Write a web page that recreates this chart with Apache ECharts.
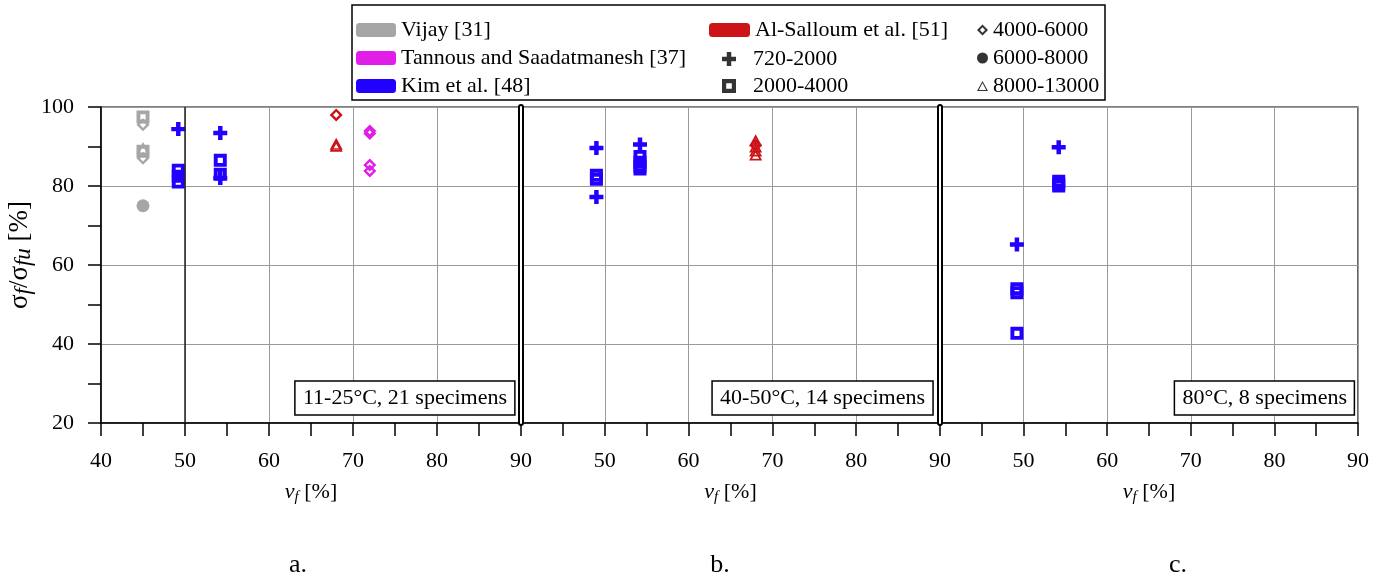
<!DOCTYPE html>
<html>
<head>
<meta charset="utf-8">
<script src="https://cdn.jsdelivr.net/npm/echarts@6/dist/echarts.min.js"></script>
<style>
html,body{margin:0;padding:0;background:#fff;}
#chart{width:1389px;height:582px;}
</style>
</head>
<body>
<div id="chart"></div>
<script>
// ---------- data ----------
const panelLabels = ['a.', 'b.', 'c.'];
const panelNotes = ['11-25°C, 21 specimens', '40-50°C, 14 specimens', '80°C, 8 specimens'];
const xTicks = [40, 50, 60, 70, 80, 90];
const yTicks = [20, 40, 60, 80, 100];
const groups = ['720-2000', '2000-4000', '4000-6000', '6000-8000', '8000-13000'];
const datasetNames = ['Vijay [31]', 'Tannous and Saadatmanesh [37]', 'Kim et al. [48]', 'Al-Salloum et al. [51]'];
// each point: [panel, vf (%), sigma_f/sigma_fu (%), group index]
const vijay = [[0,45,97.5,1],[0,45,95.5,2],[0,45,89.6,4],[0,45,88.8,1],[0,45,87,2],[0,45,75,3]];
const tannous = [[0,72,93.9,2],[0,72,93.3,2],[0,72,85.3,2],[0,72,83.8,2]];
const kim = [
  [0,49.2,94.4,0],[0,49.2,84,1],[0,49.2,82.5,1],[0,49.2,81,1],
  [0,54.2,93.4,0],[0,54.2,86.5,1],[0,54.2,83,1],[0,54.2,82,0],
  [1,49,89.6,0],[1,49,82.7,1],[1,49,81.7,1],[1,49,77.2,0],
  [1,54.2,90.5,0],[1,54.2,87.5,1],[1,54.2,86,1],[1,54.2,85,1],[1,54.2,84.3,1],
  [2,49.2,65.2,0],[2,49.2,54,1],[2,49.2,53,1],[2,49.2,42.7,1],
  [2,54.2,89.8,0],[2,54.2,81.2,1],[2,54.2,80.6,1],[2,54.2,80,1]
];
const alSalloum = [[0,68,98,2],[0,68,90.7,4],[0,68,90.2,4],[1,68,91.6,4],[1,68,90.3,2],[1,68,90,4],[1,68,89,4],[1,68,88,4]];

// ---------- styles ----------
const FONT = '"Liberation Serif", "Times New Roman", serif';
const colors = ['#a6a6a6', '#e01ee8', '#2200ff', '#cc1418'];
const crossPath = 'path://M3.4,0H6.6V3.4H10V6.6H6.6V10H3.4V6.6H0V3.4H3.4Z';
const squarePath = 'path://M0,0H10V10H0Z M3,3V7H7V3Z';
const diamondPath = 'path://M5,0L10,5L5,10L0,5Z M5,2.6L2.6,5L5,7.4L7.4,5Z';
const trianglePath = 'path://M5,0L10,9L0,9Z M5,3.2L2.3,7.8L7.7,7.8Z';
const triangleThin = 'path://M5,0L10,9L0,9Z M5,1.8L1.7,8.1L8.3,8.1Z';
const symbols = [crossPath, squarePath, diamondPath, 'circle', trianglePath];
const sizes = [[14,14], [13,13], [13,13], [13,13], [13,12]];
const allData = [vijay, tannous, kim, alSalloum];

const grids = [
  {left: 101, width: 420, top: 107, height: 316},
  {left: 521, width: 419, top: 107, height: 316},
  {left: 940, width: 418, top: 107, height: 316}
].map(g => Object.assign(g, {show: true, borderColor: '#000', borderWidth: 1.2}));

const TICK = 13;
const xAxes = [0,1,2].map(i => ({
  type: 'value', gridIndex: i, min: xTicks[0], max: xTicks[xTicks.length-1], interval: 10,
  name: '{i|v}{s|f}{n| [%]}', nameLocation: 'middle', nameGap: 56,
  nameTextStyle: {rich: {
    i: {fontFamily: FONT, fontSize: 22, fontStyle: 'italic', color: '#000'},
    s: {fontFamily: FONT, fontSize: 15, fontStyle: 'italic', color: '#000', padding: [11,0,0,0]},
    n: {fontFamily: FONT, fontSize: 22, color: '#000'}
  }},
  axisLine: {show: true, onZero: false, lineStyle: {color: '#000', width: 1.5}},
  axisTick: {show: true, length: TICK, lineStyle: {color: '#000', width: 1.5}},
  minorTick: {show: true, splitNumber: 2, length: TICK, lineStyle: {color: '#000', width: 1.5}},
  axisLabel: {fontFamily: FONT, fontSize: 22, color: '#000', margin: 27,
    formatter: v => (i > 0 && v === xTicks[0]) ? '' : String(v)},
  splitLine: {show: true, lineStyle: {color: '#9a9a9a', width: 1}}
}));

const yAxes = [0,1,2].map(i => ({
  type: 'value', gridIndex: i, min: yTicks[0], max: yTicks[yTicks.length-1], interval: 20,
  name: i === 0 ? '{n|σ}{s|f}{n|/σ}{s|fu}{n| [%]}' : '', nameLocation: 'middle', nameGap: 66, nameRotate: 90,
  nameTextStyle: {padding: [0, 0, 0, 20], rich: {
    n: {fontFamily: FONT, fontSize: 27, color: '#000'},
    s: {fontFamily: FONT, fontSize: 23, fontStyle: 'italic', color: '#000', padding: [8,0,0,0]}
  }},
  axisLine: {show: i === 0, onZero: false, lineStyle: {color: '#000', width: 1.5}},
  axisTick: {show: i === 0, length: TICK, lineStyle: {color: '#000', width: 1.5}},
  minorTick: {show: i === 0, splitNumber: 2, length: TICK, lineStyle: {color: '#000', width: 1.5}},
  axisLabel: {show: i === 0, fontFamily: FONT, fontSize: 22, color: '#000', margin: 27},
  splitLine: {show: true, lineStyle: {color: '#9a9a9a', width: 1}}
}));

const series = [];
allData.forEach((pts, d) => {
  [0,1,2].forEach(p => {
    groups.forEach((g, gi) => {
      const sel = pts.filter(q => q[0] === p && q[3] === gi).map(q => [q[1], q[2]]);
      if (!sel.length) return;
      series.push({
        type: 'scatter', name: datasetNames[d], xAxisIndex: p, yAxisIndex: p,
        data: sel, symbol: symbols[gi], symbolSize: sizes[gi],
        itemStyle: {color: colors[d], opacity: 1}, z: 3
      });
    });
  });
});
// legend-only series for size groups
groups.forEach((g, gi) => {
  series.push({type: 'scatter', name: g, xAxisIndex: 0, yAxisIndex: 0, data: [],
    symbol: symbols[gi], itemStyle: {color: '#000'}});
});
// panel separators (double line) and darker line in panel a
const sepLine = (axisIdx, w, c, z) => ({
  type: 'scatter', xAxisIndex: axisIdx, yAxisIndex: axisIdx, data: [], silent: true, z: z,
  markLine: {silent: true, symbol: ['none','none'], label: {show: false},
    lineStyle: {color: c, width: w, type: 'solid', cap: 'round'}, data: [{xAxis: xTicks[xTicks.length-1]}]}
});
series.push(sepLine(0, 6, '#000', 5), sepLine(0, 2, '#fff', 6));
series.push(sepLine(1, 6, '#000', 5), sepLine(1, 2, '#fff', 6));
series.push({
  type: 'scatter', xAxisIndex: 0, yAxisIndex: 0, data: [], silent: true, z: 2,
  markLine: {silent: true, symbol: ['none','none'], label: {show: false},
    lineStyle: {color: '#222', width: 1.5, type: 'solid'}, data: [{xAxis: xTicks[1]}]}
});

const legTxt = {fontFamily: FONT, fontSize: 22, color: '#000'};
const legend = [
  {left: 351, top: 14, orient: 'vertical', itemGap: 6, itemWidth: 40, itemHeight: 14, textStyle: legTxt,
   selectedMode: false,
   data: [0,1,2].map(d => ({name: datasetNames[d], icon: 'roundRect', itemStyle: {color: colors[d]}}))},
  {left: 704, top: 14, orient: 'vertical', itemGap: 6, itemWidth: 41, itemHeight: 14, textStyle: legTxt,
   selectedMode: false,
   data: [{name: datasetNames[3], icon: 'roundRect', itemStyle: {color: colors[3]}}]},
  {left: 717, top: 43, orient: 'vertical', itemGap: 5, itemWidth: 14, itemHeight: 14,
   textStyle: Object.assign({padding: [0,0,0,12]}, legTxt), selectedMode: false,
   data: [groups[0], groups[1]]},
  {left: 972, top: 14, orient: 'vertical', itemGap: 6, itemWidth: 11, itemHeight: 11, textStyle: legTxt,
   selectedMode: false,
   data: [groups[2], groups[3], {name: groups[4], icon: triangleThin}]}
];

const titles = panelNotes.map((t, i) => ({
  text: t, right: [874, 456, 34][i], top: 381,
  backgroundColor: '#fff', borderColor: '#000', borderWidth: 1.5, padding: [6,8,6,8],
  textStyle: {fontFamily: FONT, fontSize: 22, fontWeight: 'normal', color: '#000'}
}));

const option = {
  backgroundColor: '#fff',
  animation: false,
  title: titles,
  legend: legend,
  grid: grids,
  xAxis: xAxes,
  yAxis: yAxes,
  series: series,
  graphic: [
    {type: 'rect', shape: {x: 352, y: 5, width: 753, height: 95}, style: {fill: 'none', stroke: '#000', lineWidth: 1.5}, z: 10},
    ...panelLabels.map((t, i) => ({type: 'text', x: [298, 720, 1178][i], y: 565,
      style: {text: t, font: '26px ' + FONT, fill: '#000', align: 'center', verticalAlign: 'middle'}}))
  ]
};
const chart = echarts.init(document.getElementById('chart'), null, {renderer: 'canvas'});
chart.setOption(option);
</script>
</body>
</html>
